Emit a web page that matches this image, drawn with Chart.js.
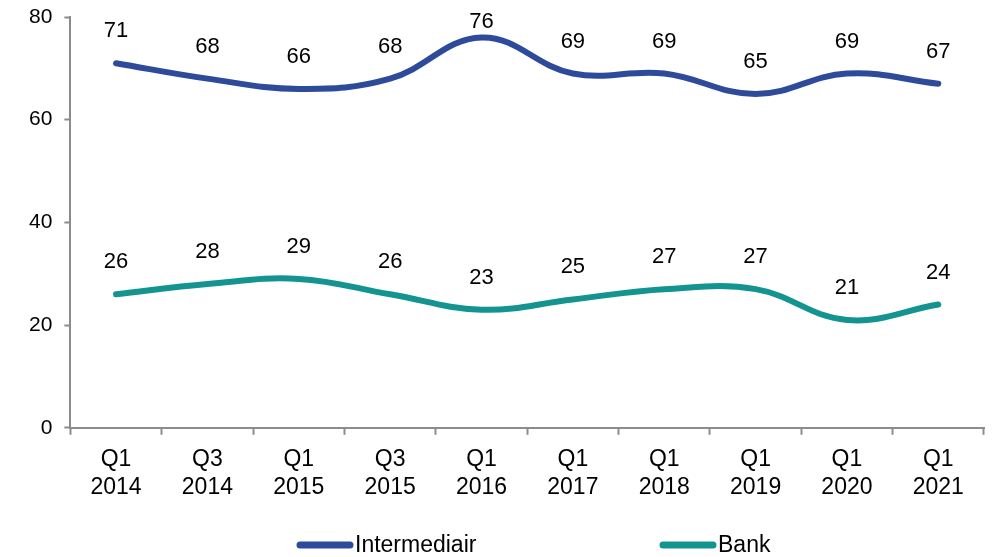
<!DOCTYPE html>
<html>
<head>
<meta charset="utf-8">
<script src="https://cdn.jsdelivr.net/npm/chart.js@4"></script>
<style>
  html, body { margin: 0; padding: 0; background: #fff; }
  #wrap { width: 997px; height: 557px; position: relative; }
</style>
</head>
<body>
<div id="wrap"><canvas id="chart"></canvas></div>
<script>
// quarters on the x axis, two lines each
const quarters = [
  ['Q1', '2014'], ['Q3', '2014'], ['Q1', '2015'], ['Q3', '2015'], ['Q1', '2016'],
  ['Q1', '2017'], ['Q1', '2018'], ['Q1', '2019'], ['Q1', '2020'], ['Q1', '2021']
];
const intermediair = [71, 68, 66, 68, 76, 69, 69, 65, 69, 67];
const bank = [26, 28, 29, 26, 23, 25, 27, 27, 21, 24];
const yTicks = [0, 20, 40, 60, 80];

const FONT = 'Liberation Sans, Arial, sans-serif';

// value labels above each point, kept inside the plot area
const valueLabels = {
  id: 'valueLabels',
  afterDatasetsDraw(chart) {
    const ctx = chart.ctx;
    const minY = chart.chartArea.top + 5;
    ctx.save();
    ctx.font = '22px ' + FONT;
    ctx.fillStyle = '#000';
    ctx.textAlign = 'center';
    ctx.textBaseline = 'middle';
    chart.data.datasets.forEach((ds, i) => {
      chart.getDatasetMeta(i).data.forEach((pt, j) => {
        ctx.fillText(ds.data[j], pt.x, Math.max(pt.y - 32, minY));
      });
    });
    ctx.restore();
  }
};

// legend row under the axis: long line sample then the series name
const legendRow = {
  id: 'legendRow',
  afterDraw(chart) {
    const ctx = chart.ctx;
    const starts = [297, 660];
    const y = 545;
    ctx.save();
    ctx.font = '23px ' + FONT;
    ctx.textBaseline = 'middle';
    ctx.textAlign = 'left';
    chart.data.datasets.forEach((ds, i) => {
      const x = starts[i];
      ctx.strokeStyle = ds.borderColor;
      ctx.lineWidth = 7;
      ctx.lineCap = 'round';
      ctx.beginPath();
      ctx.moveTo(x + 3, y);
      ctx.lineTo(x + 53, y);
      ctx.stroke();
      ctx.fillStyle = '#000';
      ctx.fillText(ds.label, x + 58, y + 1);
    });
    ctx.restore();
  }
};

new Chart(document.getElementById('chart'), {
  type: 'line',
  data: {
    labels: quarters,
    datasets: [
      {
        label: 'Intermediair',
        data: intermediair,
        borderColor: '#2E4A9B',
        backgroundColor: '#2E4A9B',
        borderWidth: 6,
        tension: 0.4,
        pointRadius: 0,
        borderCapStyle: 'round'
      },
      {
        label: 'Bank',
        data: bank,
        borderColor: '#139490',
        backgroundColor: '#139490',
        borderWidth: 6,
        tension: 0.4,
        pointRadius: 0,
        borderCapStyle: 'round'
      }
    ]
  },
  options: {
    responsive: true,
    maintainAspectRatio: false,
    animation: false,
    layout: { padding: { top: 17, right: 13, left: 17, bottom: 45 } },
    plugins: {
      tooltip: { enabled: false },
      legend: { display: false }
    },
    scales: {
      x: {
        offset: true,
        grid: {
          offset: true,
          drawOnChartArea: false,
          tickLength: 7,
          tickColor: '#8c8c8c',
          tickWidth: 2
        },
        border: { color: '#8c8c8c', width: 2 },
        ticks: {
          color: '#000',
          font: { family: FONT, size: 23 },
          maxRotation: 0,
          padding: 11
        }
      },
      y: {
        min: 0,
        max: 80,
        afterBuildTicks(axis) {
          axis.ticks = yTicks.map(v => ({ value: v }));
        },
        afterFit(axis) {
          axis.paddingTop = 0;
          axis.paddingBottom = 0;
        },
        grid: {
          drawOnChartArea: false,
          tickLength: 6,
          tickColor: '#8c8c8c',
          tickWidth: 2
        },
        border: { color: '#8c8c8c', width: 2 },
        ticks: {
          color: '#000',
          font: { family: FONT, size: 21 },
          padding: 12
        }
      }
    }
  },
  plugins: [valueLabels, legendRow]
});
</script>
</body>
</html>
